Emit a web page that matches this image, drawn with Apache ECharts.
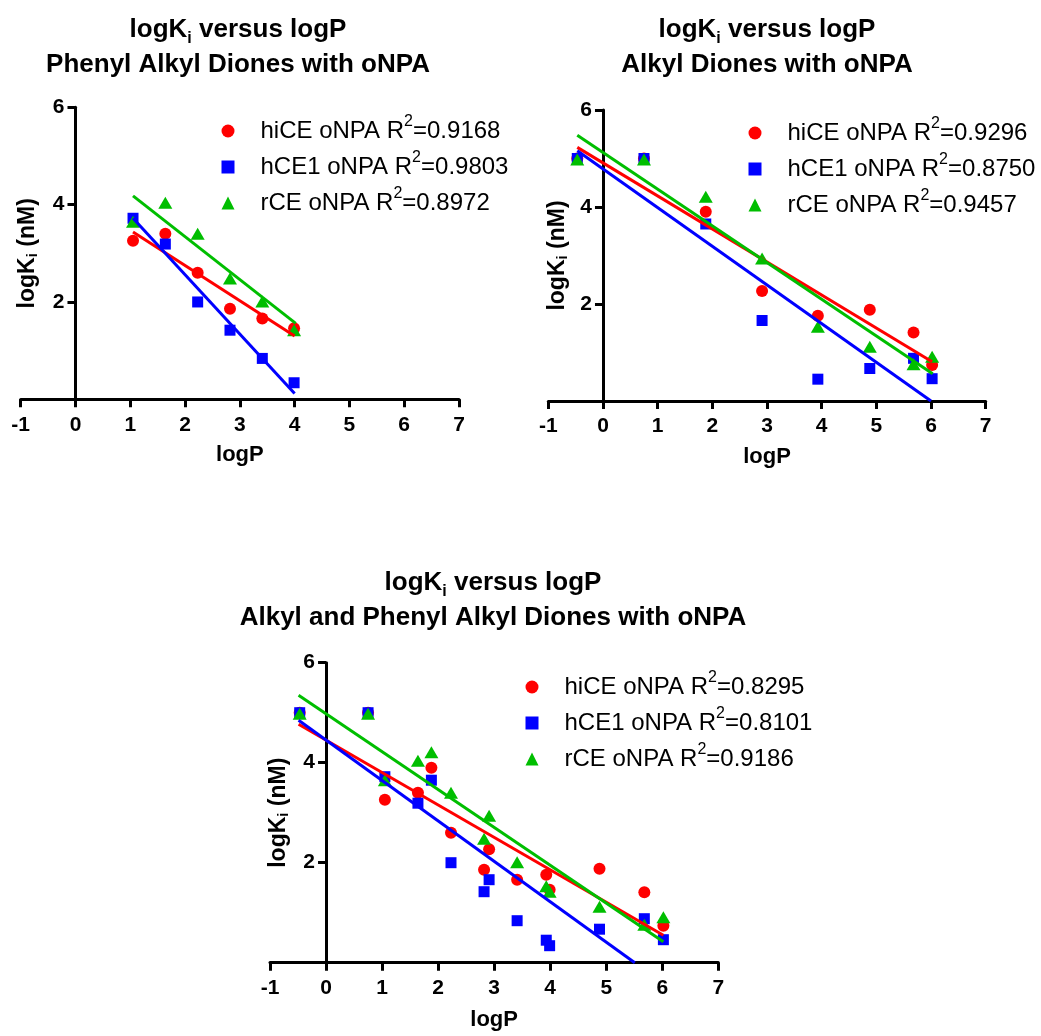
<!DOCTYPE html>
<html>
<head>
<meta charset="utf-8">
<script src="https://cdn.jsdelivr.net/npm/echarts@6/dist/echarts.min.js"></script>
<style>
  html, body { margin: 0; padding: 0; background: #ffffff; }
  #chart { width: 1041px; height: 1036px; }
</style>
</head>
<body>
<div id="chart"></div>
<script>
// ---- data -------------------------------------------------------------
// Phenyl alkyl diones: logP and logKi (nM) for each enzyme
const phenylLogP = [1.05, 1.64, 2.23, 2.82, 3.41, 3.99];
const phenylHiCE = [3.26, 3.40, 2.60, 1.86, 1.66, 1.46];
const phenylHCE1 = [3.72, 3.19, 2.00, 1.42, 0.84, 0.34];
const phenylRCE  = [3.65, 4.04, 3.40, 2.48, 2.01, 1.42];

// Alkyl diones
const alkylLogP = [-0.47, 0.75, 1.88, 2.91, 3.93, 4.88, 5.68, 6.02];
const alkylHiCE = [5.00, 5.00, 3.90, 2.27, 1.76, 1.88, 1.41, 0.74];
const alkylHCE1 = [5.00, 5.00, 3.65, 1.66, 0.45, 0.67, 0.88, 0.46];
const alkylRCE  = [4.98, 4.98, 4.21, 2.94, 1.53, 1.12, 0.76, 0.91];

// Linear regression lines (end points, logP -> logKi)
const fitPhenylHiCE = [[1.05, 3.44], [4.00, 1.30]];
const fitPhenylHCE1 = [[1.05, 3.72], [4.00, 0.12]];
const fitPhenylRCE  = [[1.05, 4.18], [4.02, 1.56]];
const fitAlkylHiCE  = [[-0.47, 5.23], [6.02, 0.81]];
const fitAlkylHCE1  = [[-0.47, 5.16], [6.00, 0.00]];
const fitAlkylRCE   = [[-0.47, 5.48], [6.03, 0.56]];
const fitAllHiCE    = [[-0.49, 4.77], [6.02, 0.55]];
const fitAllHCE1    = [[-0.49, 4.85], [5.51, 0.00]];
const fitAllRCE     = [[-0.49, 5.35], [6.02, 0.42]];

// Coefficients of determination
const r2Phenyl = ['0.9168', '0.9803', '0.8972'];
const r2Alkyl  = ['0.9296', '0.8750', '0.9457'];
const r2All    = ['0.8295', '0.8101', '0.9186'];

// Axis ticks
const xTickMin = -1, xTickMax = 7, xTickStep = 1;
const yTickMin = 0,  yTickMax = 6, yTickStep = 2;

const enzymes = ['hiCE', 'hCE1', 'rCE'];
const titleLine1 = 'logK{sub|i} versus logP';
const panelSubtitles = ['Phenyl Alkyl Diones with oNPA', 'Alkyl Diones with oNPA', 'Alkyl and Phenyl Alkyl Diones with oNPA'];

// ---- styling ----------------------------------------------------------
const FONT = "'Liberation Sans', Arial, Helvetica, sans-serif";
const colors = ['#ff0000', '#0000ff', '#00be00'];
const symbols = ['circle', 'rect', 'triangle'];
const symbolSizes = [12, 11, [14, 12]];

const pairs = (xs, ys) => xs.map((x, i) => [x, ys[i]]);

const panels = [
  {
    points: [pairs(phenylLogP, phenylHiCE), pairs(phenylLogP, phenylHCE1), pairs(phenylLogP, phenylRCE)],
    fits: [fitPhenylHiCE, fitPhenylHCE1, fitPhenylRCE],
    r2: r2Phenyl,
    grid: { left: 20.7, top: 107.3, width: 438.3, height: 292 },
    title: { x: 238, y: 12 },
    legend: { left: 221.5, top: 114 },
    yNameGap: 35, xNameGap: 44
  },
  {
    points: [pairs(alkylLogP, alkylHiCE), pairs(alkylLogP, alkylHCE1), pairs(alkylLogP, alkylRCE)],
    fits: [fitAlkylHiCE, fitAlkylHCE1, fitAlkylRCE],
    r2: r2Alkyl,
    grid: { left: 548.3, top: 110, width: 437.4, height: 291 },
    title: { x: 767, y: 12 },
    legend: { left: 748.5, top: 116 },
    yNameGap: 33, xNameGap: 44
  },
  {
    points: [
      pairs(phenylLogP, phenylHiCE).concat(pairs(alkylLogP, alkylHiCE)),
      pairs(phenylLogP, phenylHCE1).concat(pairs(alkylLogP, alkylHCE1)),
      pairs(phenylLogP, phenylRCE).concat(pairs(alkylLogP, alkylRCE))
    ],
    fits: [fitAllHiCE, fitAllHCE1, fitAllRCE],
    r2: r2All,
    grid: { left: 270, top: 662.7, width: 448.3, height: 300 },
    title: { x: 493, y: 565 },
    legend: { left: 525.5, top: 670 },
    yNameGap: 35, xNameGap: 45
  }
];

const supRich = {
  sup: { fontFamily: FONT, fontSize: 16, color: '#000', verticalAlign: 'top', lineHeight: 13 }
};

const option = {
  animation: false,
  backgroundColor: '#ffffff',
  title: [], grid: [], xAxis: [], yAxis: [], legend: [], series: []
};

panels.forEach((p, k) => {
  option.title.push({
    text: titleLine1 + '\n' + panelSubtitles[k],
    left: p.title.x,
    top: p.title.y,
    textAlign: 'center',
    padding: 0,
    textStyle: {
      fontFamily: FONT, fontSize: 26, fontWeight: 'bold', color: '#000', lineHeight: 35,
      rich: {
        sub: { fontFamily: FONT, fontSize: 16, fontWeight: 'bold', color: '#000', verticalAlign: 'bottom', lineHeight: 20 }
      }
    }
  });

  option.grid.push(Object.assign({ containLabel: false, outerBoundsMode: 'none' }, p.grid));

  // the y axis stands at logP = 0, i.e. one x-unit inside the grid's left edge
  const xUnit = p.grid.width / (xTickMax - xTickMin);
  const yAxisShift = -(0 - xTickMin) * xUnit;

  option.xAxis.push({
    type: 'value', gridIndex: k,
    min: xTickMin, max: xTickMax, interval: xTickStep,
    name: 'logP', nameLocation: 'middle', nameGap: p.xNameGap,
    nameTextStyle: { fontFamily: FONT, fontSize: 22, fontWeight: 'bold', color: '#000', lineHeight: 24 },
    axisLine: { onZero: false, lineStyle: { color: '#000', width: 3 } },
    axisTick: { show: true, length: 8, lineStyle: { color: '#000', width: 3 } },
    axisLabel: { fontFamily: FONT, fontSize: 21, fontWeight: 'bold', color: '#000', margin: 15 },
    splitLine: { show: false }
  });

  option.yAxis.push({
    type: 'value', gridIndex: k,
    min: yTickMin, max: yTickMax, interval: yTickStep,
    offset: yAxisShift,
    name: 'logK{sub|i} (nM)', nameLocation: 'middle', nameGap: p.yNameGap,
    nameTextStyle: {
      fontFamily: FONT, fontSize: 23, fontWeight: 'bold', color: '#000', lineHeight: 25,
      rich: { sub: { fontFamily: FONT, fontSize: 15, fontWeight: 'bold', color: '#000', verticalAlign: 'bottom', lineHeight: 17 } }
    },
    axisLine: { onZero: false, lineStyle: { color: '#000', width: 3 } },
    axisTick: { show: true, length: 8, lineStyle: { color: '#000', width: 3 } },
    axisLabel: { fontFamily: FONT, fontSize: 21, fontWeight: 'bold', color: '#000', margin: 11, showMinLabel: false },
    splitLine: { show: false }
  });

  const legendNames = [];
  enzymes.forEach((enz, s) => {
    const name = enz + ' oNPA R2=' + p.r2[s];
    legendNames.push(name);
    option.series.push({
      type: 'scatter', name: name,
      xAxisIndex: k, yAxisIndex: k,
      symbol: symbols[s], symbolSize: symbolSizes[s],
      itemStyle: { color: colors[s], opacity: 1 },
      data: p.points[s],
      z: 2
    });
  });
  enzymes.forEach((enz, s) => {
    option.series.push({
      type: 'line', name: enz + ' fit ' + (k + 1),
      xAxisIndex: k, yAxisIndex: k,
      symbol: 'none',
      lineStyle: { color: colors[s], width: 3 },
      data: p.fits[s],
      z: 3
    });
  });

  option.legend.push({
    data: legendNames,
    orient: 'vertical',
    left: p.legend.left, top: p.legend.top,
    padding: 0,
    itemWidth: 13, itemHeight: 13, itemGap: 2,
    selectedMode: false,
    itemStyle: { opacity: 1 },
    formatter: n => n.replace('R2=', 'R{sup|2}='),
    textStyle: {
      fontFamily: FONT, fontSize: 24, color: '#000', lineHeight: 34,
      padding: [0, 0, 0, 21],
      rich: supRich
    }
  });
});

const chart = echarts.init(document.getElementById('chart'), null, { renderer: 'canvas' });
chart.setOption(option);
</script>
</body>
</html>
